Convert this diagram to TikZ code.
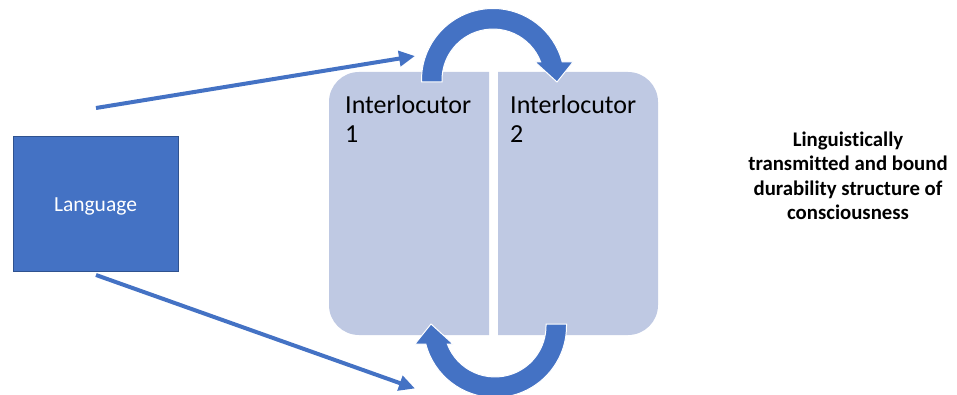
\documentclass[tikz,border=0pt]{standalone}
\usepackage{fontspec}
\setmainfont{Carlito}[Ligatures=NoCommon]
\usetikzlibrary{arrows.meta}
\definecolor{accent}{HTML}{4472C4}
\definecolor{accentdark}{HTML}{2F528F}
\definecolor{pale}{RGB}{191,201,227}
\tikzset{
  langbox/.style={fill=accent, draw=accentdark, line width=0.8pt,
    minimum width=165pt, minimum height=135pt, inner sep=0pt,
    text=white, font=\fontsize{21.5}{26}\selectfont,
    text height=16pt, text depth=0pt},
  panel/.style={fill=pale},
  spkname/.style={anchor=base west, align=left, inner sep=0pt,
    font=\fontsize{26}{29}\selectfont},
  conn/.style={draw=accent, line width=4pt,
    -{Triangle[length=16pt,width=15pt]}},
  turn/.style={fill=accent, draw=white, line width=1pt, line join=miter},
  caption/.style={align=center, anchor=base, inner sep=0pt,
    font=\bfseries\fontsize{20.8}{24}\selectfont},
}
\begin{document}
\begin{tikzpicture}[x=1pt, y=-1pt]
\useasboundingbox (0,0) rectangle (957,395);

% the two halves of the dialogue panel
\path[panel] (489,72) -- (359,72) arc[start angle=270, end angle=180, radius=30]
  -- (329,305) arc[start angle=180, end angle=90, radius=30]
  -- (489,335) -- cycle;
\path[panel] (498,72) -- (628,72) arc[start angle=270, end angle=360, radius=30]
  -- (658,305) arc[start angle=0, end angle=90, radius=30]
  -- (498,335) -- cycle;
% multi-line nodes sit on the baseline of their last line
\node[spkname] (i1) at (345,143) {Interlocutor\\1};
\node[spkname] (i2) at (510,143) {Interlocutor\\2};

% turn-taking arrows: upper one, and the same shape turned half round below
\path[turn] (421.5,82) -- (421.5,80) arc[start angle=180, end angle=345.4, radius=71.5]
  -- (573,62) -- (557,82) -- (535,62) -- (540.7,62)
  arc[start angle=339.3, end angle=180, radius=51] -- (442,82) -- cycle;
\begin{scope}[rotate around={180:(494,203)}]
\path[turn] (421.5,82) -- (421.5,80) arc[start angle=180, end angle=345.4, radius=71.5]
  -- (573,62) -- (557,82) -- (535,62) -- (540.7,62)
  arc[start angle=339.3, end angle=180, radius=51] -- (442,82) -- cycle;
\end{scope}

% language and its two channels
\node[langbox] (lang) at (95.5,203.5) {Language};
\coordinate (up0) at (96,108);
\coordinate (up1) at (415,56);
\coordinate (dn0) at (96,275);
\coordinate (dn1) at (415,388.5);
\draw[conn] (up0) -- (up1);
\draw[conn] (dn0) -- (dn1);

\node[caption] (cap) at (848,219) {Linguistically\\transmitted and bound\\durability structure of\\consciousness};
\end{tikzpicture}
\end{document}
